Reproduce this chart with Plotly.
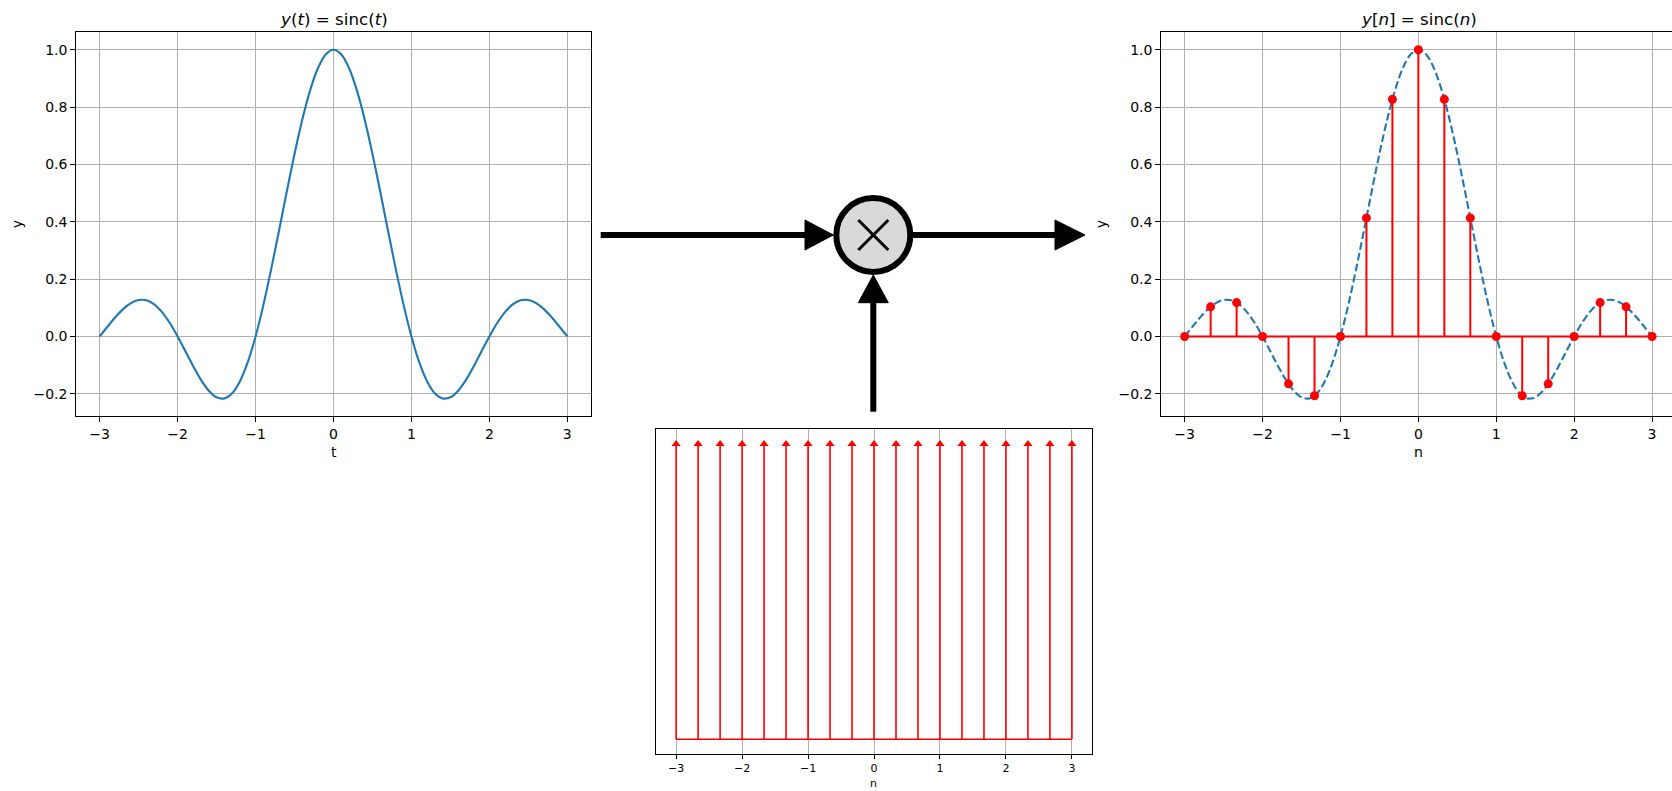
import plotly.graph_objects as go

W, H = 1672, 791

# Continuous signal y(t) = sinc(t), sampled every 0.1
t = [-3.0, -2.9, -2.8, -2.7, -2.6, -2.5, -2.4, -2.3, -2.2, -2.1,
     -2.0, -1.9, -1.8, -1.7, -1.6, -1.5, -1.4, -1.3, -1.2, -1.1,
     -1.0, -0.9, -0.8, -0.7, -0.6, -0.5, -0.4, -0.3, -0.2, -0.1,
     0.0, 0.1, 0.2, 0.3, 0.4, 0.5, 0.6, 0.7, 0.8, 0.9,
     1.0, 1.1, 1.2, 1.3, 1.4, 1.5, 1.6, 1.7, 1.8, 1.9,
     2.0, 2.1, 2.2, 2.3, 2.4, 2.5, 2.6, 2.7, 2.8, 2.9, 3.0]
y_t = [0.0, 0.0339, 0.0668, 0.0954, 0.1164, 0.1273, 0.1261, 0.1120, 0.0850, 0.0468,
       0.0, -0.0518, -0.1039, -0.1515, -0.1892, -0.2122, -0.2162, -0.1981, -0.1559, -0.0894,
       0.0, 0.1093, 0.2339, 0.3679, 0.5046, 0.6366, 0.7568, 0.8584, 0.9355, 0.9836,
       1.0, 0.9836, 0.9355, 0.8584, 0.7568, 0.6366, 0.5046, 0.3679, 0.2339, 0.1093,
       0.0, -0.0894, -0.1559, -0.1981, -0.2162, -0.2122, -0.1892, -0.1515, -0.1039, -0.0518,
       0.0, 0.0468, 0.0850, 0.1120, 0.1261, 0.1273, 0.1164, 0.0954, 0.0668, 0.0339, 0.0]

# Sampling instants and sampled values y[n]
n = [-3.0, -2.6667, -2.3333, -2.0, -1.6667, -1.3333, -1.0, -0.6667, -0.3333, 0.0,
     0.3333, 0.6667, 1.0, 1.3333, 1.6667, 2.0, 2.3333, 2.6667, 3.0]
y_n = [0.0, 0.1034, 0.1181, 0.0, -0.1654, -0.2067, 0.0, 0.4135, 0.8270, 1.0,
       0.8270, 0.4135, 0.0, -0.2067, -0.1654, 0.0, 0.1181, 0.1034, 0.0]

# Impulse train amplitude
comb = [1.0] * len(n)

x_ticks = [-3, -2, -1, 0, 1, 2, 3]
x_ticktext = ["\u22123", "\u22122", "\u22121", "0", "1", "2", "3"]
y_ticks = [-0.2, 0.0, 0.2, 0.4, 0.6, 0.8, 1.0]
y_ticktext = ["\u22120.2", "0.0", "0.2", "0.4", "0.6", "0.8", "1.0"]

BLUE = "#1f77b4"
RED = "#ff0000"
FONT = "DejaVu Sans"


def px(x):
    return x / W


def py(y):
    return 1 - y / H


def stems(xs, ys):
    sx, sy = [], []
    for a, b in zip(xs, ys):
        sx += [a, a, None]
        sy += [0, b, None]
    return sx, sy


fig = go.Figure()

# Left panel: continuous sinc
fig.add_trace(go.Scatter(x=t, y=y_t, mode="lines", line=dict(color=BLUE, width=2.1, shape="spline"),
                         xaxis="x", yaxis="y", showlegend=False))

# Right panel: dashed envelope plus stems
fig.add_trace(go.Scatter(x=t, y=y_t, mode="lines",
                         line=dict(color=BLUE, width=2.1, shape="spline", dash="7.7px,3.3px"),
                         xaxis="x2", yaxis="y2", showlegend=False))
sx, sy = stems(n, y_n)
fig.add_trace(go.Scatter(x=sx, y=sy, mode="lines", line=dict(color=RED, width=2),
                         xaxis="x2", yaxis="y2", showlegend=False))
fig.add_trace(go.Scatter(x=[n[0], n[-1]], y=[0, 0], mode="lines", line=dict(color=RED, width=2),
                         xaxis="x2", yaxis="y2", showlegend=False))
fig.add_trace(go.Scatter(x=n, y=y_n, mode="markers", marker=dict(color=RED, size=9),
                         xaxis="x2", yaxis="y2", showlegend=False))

# Bottom panel: impulse train
cx, cy = stems(n, comb)
fig.add_trace(go.Scatter(x=cx, y=cy, mode="lines", line=dict(color=RED, width=1.6),
                         xaxis="x3", yaxis="y3", showlegend=False))
fig.add_trace(go.Scatter(x=[n[0], n[-1]], y=[0, 0], mode="lines", line=dict(color=RED, width=1.6),
                         xaxis="x3", yaxis="y3", showlegend=False))
fig.add_trace(go.Scatter(x=n, y=comb, mode="markers",
                         marker=dict(color=RED, size=8, symbol="triangle-up"),
                         xaxis="x3", yaxis="y3", showlegend=False))

axis_common = dict(showline=True, linecolor="black", linewidth=1.1, ticks="outside",
                   ticklen=5, tickwidth=1.1, tickcolor="black", showgrid=True,
                   gridcolor="#b0b0b0", gridwidth=1.1, zeroline=False,
                   tickfont=dict(family=FONT, size=14, color="black"))

fig.update_layout(
    width=W, height=H, margin=dict(l=0, r=0, t=0, b=0),
    paper_bgcolor="white", plot_bgcolor="white",
    xaxis=dict(domain=[px(76.3), px(590.7)], range=[-3.3, 3.3], anchor="y", mirror=True,
               tickvals=x_ticks, ticktext=x_ticktext, **axis_common),
    yaxis=dict(domain=[py(416.3), py(32.3)], range=[-0.2785, 1.0609], anchor="x", mirror=True,
               tickvals=y_ticks, ticktext=y_ticktext, **axis_common),
    xaxis2=dict(domain=[px(1161.3), 1.0], range=[-3.3, 3.256], anchor="y2", mirror=True,
                tickvals=x_ticks, ticktext=x_ticktext, **axis_common),
    yaxis2=dict(domain=[py(416.3), py(32.3)], range=[-0.2785, 1.0609], anchor="x2", mirror=False,
                tickvals=y_ticks, ticktext=y_ticktext, **axis_common),
    xaxis3=dict(domain=[px(656), px(1091.7)], range=[-3.305, 3.30], anchor="y3", mirror=True,
                tickvals=x_ticks, ticktext=x_ticktext,
                **{**axis_common, "tickfont": dict(family=FONT, size=11, color="black"), "ticklen": 4}),
    yaxis3=dict(domain=[py(754), py(429.3)], range=[-0.05, 1.05], anchor="x3", mirror=True,
                showline=True, linecolor="black", linewidth=1.1, showgrid=False,
                zeroline=False, showticklabels=False, ticks=""),
)

# Titles and axis labels
texts = [
    (333.5, 19, "<i>y</i>(<i>t</i>) = sinc(<i>t</i>)", 16.7, 0),
    (1418.5, 19, "<i>y</i>[<i>n</i>] = sinc(<i>n</i>)", 16.7, 0),
    (333.5, 452, "t", 14, 0),
    (1418.5, 452, "n", 14, 0),
    (873.5, 783, "n", 11, 0),
    (17, 224.3, "y", 14, -90),
    (1101, 224.3, "y", 14, -90),
]
for x, y, s, size, ang in texts:
    fig.add_annotation(x=px(x), y=py(y), xref="paper", yref="paper", text=s, showarrow=False,
                       textangle=ang, xanchor="center", yanchor="middle",
                       font=dict(family=FONT, size=size, color="black"))

# Block diagram: multiplier node with arrows
line_w = 6
CX, CY, R = 873.3, 235.0, 37.0
shapes = []
# shafts
shapes.append(dict(type="line", xref="paper", yref="paper", x0=px(600.7), y0=py(CY), x1=px(806), y1=py(CY),
                   line=dict(color="black", width=line_w)))
shapes.append(dict(type="line", xref="paper", yref="paper", x0=px(CX + R), y0=py(CY), x1=px(1056), y1=py(CY),
                   line=dict(color="black", width=line_w)))
shapes.append(dict(type="line", xref="paper", yref="paper", x0=px(CX), y0=py(411.7), x1=px(CX), y1=py(302),
                   line=dict(color="black", width=line_w)))
# node
shapes.append(dict(type="circle", xref="paper", yref="paper", x0=px(CX - R), x1=px(CX + R),
                   y0=py(CY + R), y1=py(CY - R), fillcolor="#d9d9d9", line=dict(color="black", width=6)))
hx = 15
shapes.append(dict(type="line", xref="paper", yref="paper", x0=px(CX - hx), y0=py(CY - hx), x1=px(CX + hx),
                   y1=py(CY + hx), line=dict(color="black", width=3)))
shapes.append(dict(type="line", xref="paper", yref="paper", x0=px(CX - hx), y0=py(CY + hx), x1=px(CX + hx),
                   y1=py(CY - hx), line=dict(color="black", width=3)))


def tri(p):
    d = "M " + " L ".join(f"{px(a):.6f},{py(b):.6f}" for a, b in p) + " Z"
    return dict(type="path", xref="paper", yref="paper", path=d, fillcolor="black",
                line=dict(color="black", width=1))


shapes.append(tri([(805, 220), (833.3, CY), (805, 250)]))
shapes.append(tri([(1055, 220), (1085, CY), (1055, 250)]))
shapes.append(tri([(CX - 15, 302.7), (CX, 275), (CX + 15, 302.7)]))

fig.update_layout(shapes=shapes)

fig.write_html("out.html")
